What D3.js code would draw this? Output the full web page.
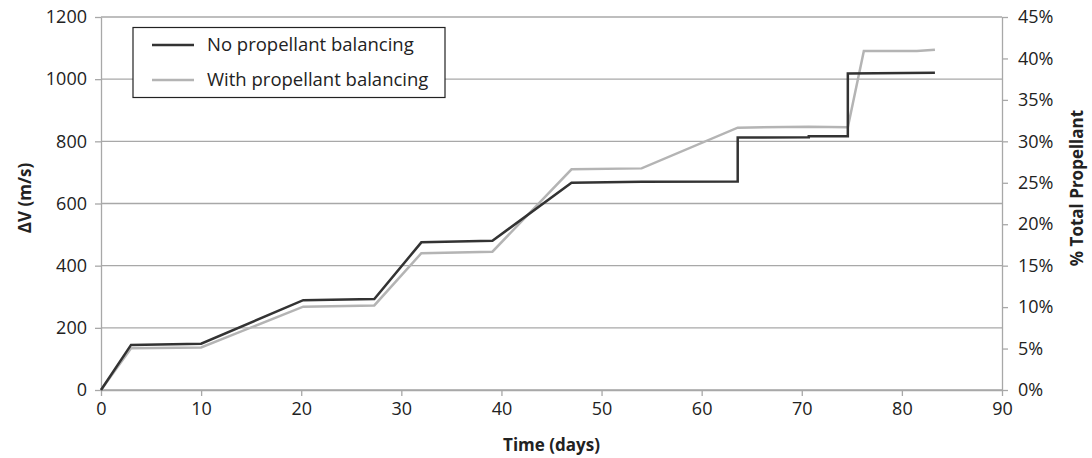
<!DOCTYPE html>
<html>
<head>
<meta charset="utf-8">
<script src="https://cdn.jsdelivr.net/npm/d3@7"></script>
<style>
body { margin: 0; background: #fff; }
svg text { font-family: "Open Sans", sans-serif; fill: #222; }
</style>
</head>
<body>
<svg id="chart" width="1092" height="458"></svg>
<script>
const xTicks = [0, 10, 20, 30, 40, 50, 60, 70, 80, 90];
const yTicks = [0, 200, 400, 600, 800, 1000, 1200];
const y2Ticks = [0, 0.05, 0.10, 0.15, 0.20, 0.25, 0.30, 0.35, 0.40, 0.45];

const noBalTime = [0, 3, 10, 20.2, 27.3, 32, 39.1, 47, 54, 63.6, 63.6, 70.7, 70.7, 74.6, 74.6, 83.3];
const noBalDV   = [0, 145, 149, 289, 293, 475, 480, 667, 670, 671, 812, 813, 816, 816, 1018, 1021];

const balTime = [0, 3, 10, 20.2, 27.3, 32, 39.1, 47, 54, 63.6, 70.7, 74.6, 76.2, 81.5, 83.3];
const balDV   = [0, 134, 137, 268, 272, 440, 445, 710, 713, 844, 847, 845, 1091, 1091, 1095];

const seriesNames = ["No propellant balancing", "With propellant balancing"];
const seriesColors = ["#333333", "#b4b4b4"];

const svg = d3.select("#chart");
const m = {left: 101, right: 1002, top: 17, bottom: 390};

const x = d3.scaleLinear().domain([0, 90]).range([m.left, m.right]);
const y = d3.scaleLinear().domain([0, 1200]).range([m.bottom, m.top]);
const y2 = d3.scaleLinear().domain([0, 0.45]).range([m.bottom, m.top]);

const gridColor = "#a8a8a8";
// gridlines
svg.append("g").selectAll("line").data(yTicks).join("line")
  .attr("x1", m.left).attr("x2", m.right)
  .attr("y1", d => y(d)).attr("y2", d => y(d))
  .attr("stroke", gridColor).attr("stroke-width", 1.3);

// axes
function styleAxis(g) {
  g.select(".domain").attr("stroke", gridColor).attr("stroke-width", 1.3);
  g.selectAll(".tick line").attr("stroke", gridColor).attr("stroke-width", 1.3);
  g.selectAll(".tick text").attr("font-size", 18).attr("fill", "#222");
}
svg.append("g").attr("transform", `translate(0,${m.bottom})`)
  .call(d3.axisBottom(x).tickValues(xTicks).tickFormat(d3.format("d")).tickSize(6).tickSizeOuter(0).tickPadding(6))
  .call(styleAxis);
svg.append("g").attr("transform", `translate(${m.left},0)`)
  .call(d3.axisLeft(y).tickValues(yTicks).tickFormat(d3.format("d")).tickSize(6).tickSizeOuter(0).tickPadding(8))
  .call(styleAxis);
svg.append("g").attr("transform", `translate(${m.right},0)`)
  .call(d3.axisRight(y2).tickValues(y2Ticks).tickFormat(d3.format(".0%")).tickSize(6).tickSizeOuter(0).tickPadding(10))
  .call(styleAxis);

// titles
svg.append("text").attr("x", (m.left + m.right) / 2).attr("y", 451)
  .attr("text-anchor", "middle").attr("font-size", 17).attr("font-weight", "bold").text("Time (days)");
svg.append("text").attr("transform", `translate(31,198) rotate(-90)`)
  .attr("text-anchor", "middle").attr("font-size", 17).attr("font-weight", "bold").text("ΔV (m/s)");
svg.append("text").attr("transform", `translate(1083,188) rotate(-90)`)
  .attr("text-anchor", "middle").attr("font-size", 17).attr("font-weight", "bold").text("% Total Propellant");

// lines
const line = d3.line().x(d => x(d[0])).y(d => y(d[1]));
const s1 = noBalTime.map((t, i) => [t, noBalDV[i]]);
const s2 = balTime.map((t, i) => [t, balDV[i]]);
svg.append("path").datum(s2).attr("d", line).attr("fill", "none")
  .attr("stroke", seriesColors[1]).attr("stroke-width", 2.5).attr("stroke-linejoin", "miter");
svg.append("path").datum(s1).attr("d", line).attr("fill", "none")
  .attr("stroke", seriesColors[0]).attr("stroke-width", 2.5).attr("stroke-linejoin", "miter");

// legend
const lg = svg.append("g");
lg.append("rect").attr("x", 133).attr("y", 27.5).attr("width", 312).attr("height", 70)
  .attr("fill", "#fff").attr("stroke", "#222").attr("stroke-width", 1.2);
seriesNames.forEach((name, i) => {
  const yy = 45 + i * 35;
  lg.append("line").attr("x1", 152).attr("x2", 194).attr("y1", yy).attr("y2", yy)
    .attr("stroke", seriesColors[i]).attr("stroke-width", 2.5);
  lg.append("text").attr("x", 207).attr("y", yy).attr("dy", "0.35em")
    .attr("font-size", 18.5).text(name);
});
</script>
</body>
</html>
